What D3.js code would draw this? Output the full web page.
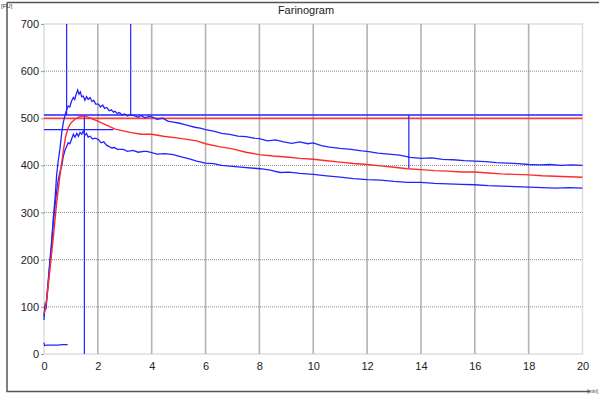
<!DOCTYPE html>
<html><head><meta charset="utf-8">
<script src="https://cdn.jsdelivr.net/npm/d3@7"></script>
<style>
html,body{margin:0;padding:0;background:#fff;}
svg{display:block;font-family:"Liberation Sans",Arial,sans-serif;}
</style></head>
<body><svg id="c" width="599" height="397"></svg>
<script>
// ---------- data ----------
const title = "Farinogram";
const yUnit = "[FU]";
const xUnit = "[min]";
const xTicks = [0,2,4,6,8,10,12,14,16,18,20];
const yTicks = [0,100,200,300,400,500,600,700];

const upperT = [0,0.03,0.06,0.10,0.16,0.22,0.28,0.34,0.41,0.47,0.53,0.59,0.66,0.72,0.78,0.84,0.90,0.96,1.02,1.09,1.14,1.20,1.25,1.30,1.35,1.40,1.46,1.52,1.58,1.64,1.71,1.78,1.85,1.92,2.02,2.10,2.18,2.25,2.33,2.42,2.50,2.58,2.64,2.72,2.80,2.90,3.00,3.10,3.20,3.38,3.5,3.6,3.75,3.9,4.0,4.2,4.4,4.6,4.8,5.0,5.2,5.4,5.6,5.8,6.0,6.3,6.6,6.9,7.2,7.5,7.8,8.0,8.3,8.6,8.9,9.2,9.5,9.8,10.0,10.3,10.6,11.0,11.4,11.8,12.0,12.4,12.8,13.2,13.6,14.0,14.4,14.8,15.2,15.6,16.0,16.4,16.8,17.2,17.6,18.0,18.4,18.8,19.2,19.6,20.0];
const upperV = [72,100,95,118,157,200,236,285,330,380,410,434,470,492,506,518,526,524,536,544,540,552,560,551,556,546,547,538,546,540,544,536,538,530,530,524,528,521,523,516,518,513,515,510,512,507,509,505,507,505,502,506,501,504,503,498,500,494,492,490,487,484,481,479,476,473,468,466,462,461,458,457,452,454,450,447,450,446,448,442,439,436,434,431,430,426,424,422,417,415,416,413,412,410,409,408,406,405,404,402,401,402,400,401,400];

const lowerT = [0,0.04,0.08,0.14,0.20,0.28,0.35,0.42,0.48,0.53,0.60,0.66,0.72,0.78,0.84,0.90,0.96,1.02,1.09,1.15,1.22,1.28,1.34,1.40,1.46,1.52,1.58,1.64,1.71,1.80,1.90,2.02,2.12,2.22,2.32,2.42,2.52,2.62,2.72,2.83,2.95,3.1,3.3,3.5,3.7,3.82,4.0,4.2,4.5,4.8,5.1,5.4,5.67,6.0,6.3,6.6,7.0,7.4,7.8,8.03,8.4,8.77,9.1,9.5,10.0,10.5,11.0,11.5,12.0,12.5,13.0,13.5,14.0,14.5,15.0,15.5,16.0,16.5,17.0,17.5,18.0,18.5,19.0,19.5,20.0];
const lowerV = [80,105,100,140,180,230,280,320,350,370,388,399,420,432,440,448,446,455,466,460,468,462,470,466,473,464,468,460,462,456,458,455,448,450,443,440,437,438,434,434,434,430,432,428,430,430,427,424,425,423,418,414,409,405,404,400,398,396,394,393,390,385,386,383,381,378,375,372,370,369,366,364,364,362,361,360,359,357,356,355,354,353,352,353,352];

const meanT = [0,0.05,0.10,0.22,0.35,0.47,0.59,0.72,0.80,0.90,1.0,1.15,1.3,1.5,1.65,1.83,2.0,2.3,2.64,3.2,3.6,4.0,4.43,5.0,5.67,6.0,6.5,7.0,7.5,8.0,8.5,9.0,9.5,10.0,10.5,11.0,11.5,12.0,12.5,13.0,13.5,14.0,14.5,15.0,15.5,16.0,16.5,17.0,17.5,18.0,18.5,19.0,19.5,20.0];
const meanV = [85,95,115,179,250,321,377,432,460,480,490,498,503,505,502,498,494,486,477,470,466,466,462,458,452,446,440,435,428,423,420,418,415,413,410,407,404,402,399,396,393,391,389,388,386,386,384,382,381,380,378,377,376,375];

const baseT = [0,0.02,0.10,0.30,0.50,0.70,0.88];
const baseV = [24,18,19,19,19,20,20];

// reference markers (values in minutes / FU)
const consistencyLine = 500;      // red
const upperLimit = 507;           // blue
const devLevel = 476;             // blue short horizontal
const devLevelEnd = 2.58;
const vMarks = [ {t:0.84, from:700, to:507}, {t:3.22, from:700, to:507}, {t:1.5, from:507, to:0}, {t:13.55, from:507, to:393} ];

// ---------- drawing ----------
const svg = d3.select("#c");
const x = d3.scaleLinear().domain([0,20]).range([44,582.5]);
const y = d3.scaleLinear().domain([0,700]).range([354,24]);

// outer frame
svg.append("path").attr("d","M7,2.5 H599 M7,2.5 V391.5 H590")
  .attr("fill","none").attr("stroke","#555").attr("stroke-width",1.5);
svg.append("text").attr("x",1).attr("y",8).attr("font-size",6).attr("fill","#333").text(yUnit);
svg.append("text").attr("x",598).attr("y",393).attr("text-anchor","end").attr("font-size",5).attr("fill","#333").text(xUnit);

// title
svg.append("text").attr("x",306).attr("y",14).attr("text-anchor","middle")
  .attr("font-size",11).attr("fill","#222").text(title);

// plot frame
svg.append("rect").attr("x",x(0)).attr("y",y(700)).attr("width",x(20)-x(0)).attr("height",y(0)-y(700))
  .attr("fill","none").attr("stroke","#dedede").attr("stroke-width",1.5);

// vertical grid
svg.append("g").selectAll("line").data(xTicks.filter(d=>d>0&&d<20)).join("line")
  .attr("x1",d=>x(d)).attr("x2",d=>x(d)).attr("y1",y(700)).attr("y2",y(0))
  .attr("stroke","#b3b3b3").attr("stroke-width",1.6);
// horizontal grid (dotted)
svg.append("g").selectAll("line").data(yTicks.filter(d=>d>0&&d<700)).join("line")
  .attr("x1",x(0)).attr("x2",x(20)).attr("y1",d=>y(d)).attr("y2",d=>y(d))
  .attr("stroke","#8a8a8a").attr("stroke-width",1).attr("stroke-dasharray","1,1");

// axes
const ya = svg.append("g").attr("transform",`translate(${x(0)},0)`)
  .call(d3.axisLeft(y).tickValues(yTicks).tickSize(3).tickPadding(2).tickFormat(d3.format("d")));
ya.select(".domain").remove();
ya.selectAll("line").attr("stroke","#999");
ya.selectAll("text").attr("font-size",11).attr("fill","#222").attr("font-family","Liberation Sans, Arial, sans-serif");
const xa = svg.append("g").attr("transform",`translate(0,${y(0)})`)
  .call(d3.axisBottom(x).tickValues(xTicks).tickSize(0).tickPadding(8).tickFormat(d3.format("d")));
xa.select(".domain").remove();
xa.selectAll("text").attr("font-size",11).attr("fill","#222").attr("font-family","Liberation Sans, Arial, sans-serif");

const blue = "#2323ff", red = "#ff2b2b";
const line = d3.line().x(d=>x(d[0])).y(d=>y(d[1]));
const zip = (a,b)=>a.map((t,i)=>[t,b[i]]);

// reference lines
svg.append("line").attr("x1",x(0)).attr("x2",x(20)).attr("y1",y(consistencyLine)).attr("y2",y(consistencyLine))
  .attr("stroke",red).attr("stroke-width",1.8).attr("opacity",0.85);
svg.append("line").attr("x1",x(0)).attr("x2",x(20)).attr("y1",y(upperLimit)).attr("y2",y(upperLimit))
  .attr("stroke",blue).attr("stroke-width",1.4);
svg.append("line").attr("x1",x(0)).attr("x2",x(devLevelEnd)).attr("y1",y(devLevel)).attr("y2",y(devLevel))
  .attr("stroke",blue).attr("stroke-width",1.2);
svg.append("g").selectAll("line").data(vMarks).join("line")
  .attr("x1",d=>x(d.t)).attr("x2",d=>x(d.t)).attr("y1",d=>y(d.from)).attr("y2",d=>y(d.to))
  .attr("stroke",blue).attr("stroke-width",1.2);

// curves
svg.append("path").attr("d",line(zip(lowerT,lowerV))).attr("fill","none").attr("stroke",blue).attr("stroke-width",1.3);
svg.append("path").attr("d",line(zip(upperT,upperV))).attr("fill","none").attr("stroke",blue).attr("stroke-width",1.3);
svg.append("path").attr("d",line(zip(meanT,meanV))).attr("fill","none").attr("stroke",red).attr("stroke-width",1.4);
svg.append("path").attr("d",line(zip(baseT,baseV))).attr("fill","none").attr("stroke",blue).attr("stroke-width",1.2);
</script></body></html>
